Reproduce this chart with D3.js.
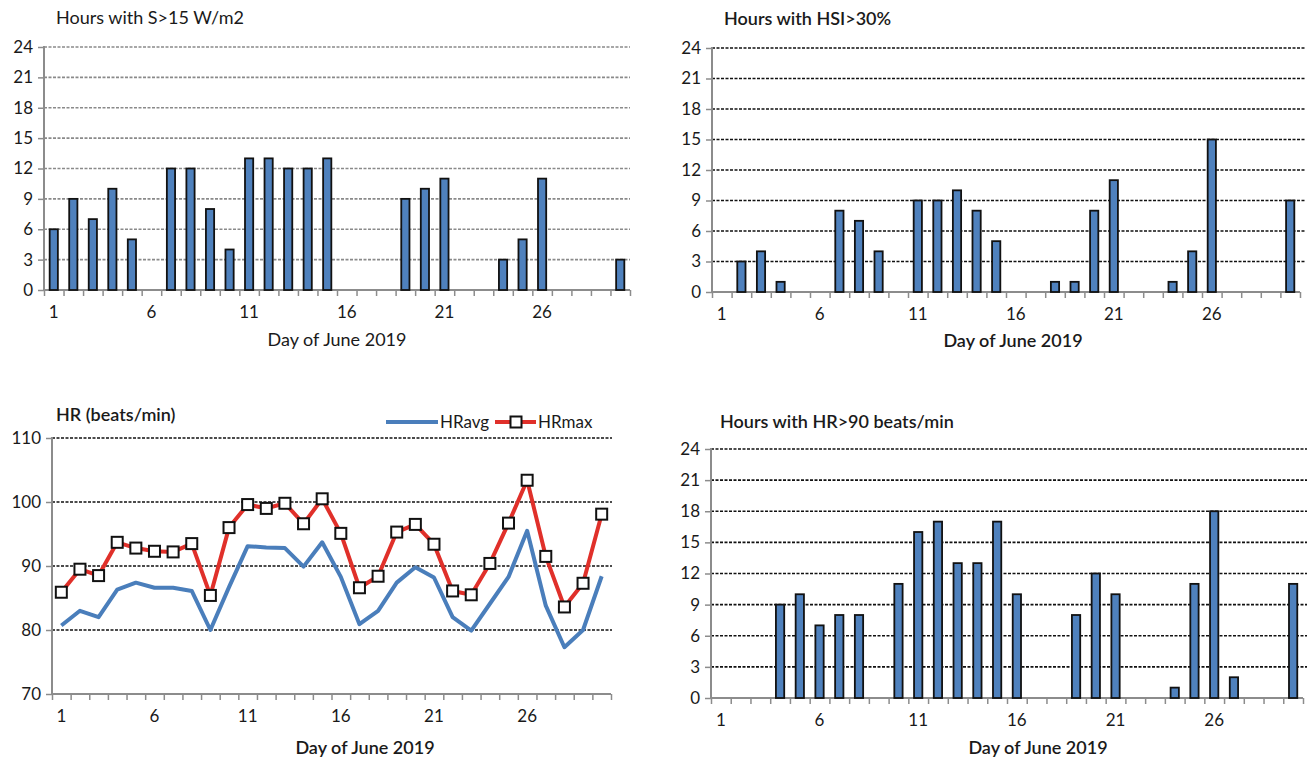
<!DOCTYPE html>
<html>
<head>
<meta charset="utf-8">
<script src="https://cdn.jsdelivr.net/npm/d3@7"></script>
<style>
  html, body { margin: 0; padding: 0; background: #fff; }
  svg { display: block; font-family: Lato, "Open Sans", sans-serif; }
</style>
</head>
<body>
<svg id="chart" width="1313" height="760"></svg>
<script>
// Days of June 2019
const days = d3.range(1, 31);
const dayLabels = [1, 6, 11, 16, 21, 26];

// Hours per day with solar irradiance S > 15 W/m2
const hoursSolar = [6, 9, 7, 10, 5, 0, 12, 12, 8, 4, 13, 13, 12, 12, 13, 0, 0, 0, 9, 10, 11, 0, 0, 3, 5, 11, 0, 0, 0, 3];
// Hours per day with heat stress index HSI > 30%
const hoursHSI = [0, 3, 4, 1, 0, 0, 8, 7, 4, 0, 9, 9, 10, 8, 5, 0, 0, 1, 1, 8, 11, 0, 0, 1, 4, 15, 0, 0, 0, 9];
// Hours per day with heart rate above 90 beats/min
const hoursHR90 = [0, 0, 0, 9, 10, 7, 8, 8, 0, 11, 16, 17, 13, 13, 17, 10, 0, 0, 8, 12, 10, 0, 0, 1, 11, 18, 2, 0, 0, 11];

// Daily heart rate (beats/min)
const hrAvg = [80.7, 83.0, 82.0, 86.3, 87.4, 86.6, 86.6, 86.1, 80.0, 86.7, 93.1, 92.9, 92.8, 89.9, 93.7, 88.3, 80.9, 83.0, 87.4, 89.8, 88.2, 82.0, 79.9, 84.1, 88.3, 95.5, 83.8, 77.3, 80.0, 88.4];
const hrMax = [85.9, 89.5, 88.5, 93.7, 92.8, 92.3, 92.2, 93.5, 85.4, 96.0, 99.6, 99.0, 99.8, 96.6, 100.5, 95.1, 86.6, 88.4, 95.3, 96.5, 93.4, 86.1, 85.5, 90.4, 96.7, 103.4, 91.5, 83.6, 87.3, 98.1];

const hoursTicks = [0, 3, 6, 9, 12, 15, 18, 21, 24];
const hrTicks = [70, 80, 90, 100, 110];

const BAR_FILL = "#4f81bd";
const AXIS_GREY = "#8c8c8c";
const TEXT = "#1a1a1a";

const svg = d3.select("#chart");

// Shared frame: axes, gridlines, tick labels, titles
function frame(cfg) {
  const g = svg.append("g");
  const x = d3.scaleBand().domain(days).range([cfg.left, cfg.right])
    .paddingInner(0.58).paddingOuter(0.29);
  const y = d3.scaleLinear().domain(cfg.yDomain).range([cfg.bottom, cfg.top]);

  // horizontal dashed gridlines (above the baseline)
  g.append("g").selectAll("line")
    .data(cfg.yTicks.filter(v => v !== cfg.yDomain[0]))
    .join("line")
    .attr("x1", cfg.left).attr("x2", cfg.gridRight)
    .attr("y1", d => y(d)).attr("y2", d => y(d))
    .attr("stroke", cfg.gridColor).attr("stroke-width", 1.7)
    .attr("stroke-dasharray", "3,1.5");

  // y axis
  const yAxis = g.append("g")
    .attr("transform", `translate(${cfg.left},0)`)
    .call(d3.axisLeft(y).tickValues(cfg.yTicks).tickSize(6).tickPadding(5).tickFormat(d3.format("d")));
  yAxis.select(".domain").attr("stroke", AXIS_GREY).attr("stroke-width", 2)
    .attr("d", `M0,${cfg.top - 1}V${cfg.bottom}`);
  yAxis.selectAll(".tick line").attr("stroke", AXIS_GREY).attr("stroke-width", 1.5);
  yAxis.selectAll(".tick text").attr("fill", TEXT).style("font-size", "17px")
    .attr("font-family", "Lato, sans-serif");

  // x axis: tick marks on category boundaries
  const xb = d3.scaleLinear().domain([0, days.length]).range([cfg.left, cfg.right]);
  const xAxis = g.append("g")
    .attr("transform", `translate(0,${cfg.bottom})`)
    .call(d3.axisBottom(xb).tickValues(d3.range(0, days.length + 1)).tickSize(6).tickFormat(""));
  xAxis.select(".domain").attr("stroke", AXIS_GREY).attr("stroke-width", 2)
    .attr("d", `M${cfg.left},0H${cfg.right}`);
  xAxis.selectAll(".tick line").attr("stroke", AXIS_GREY).attr("stroke-width", 1.5);

  // x labels centred under selected days
  const xl = g.append("g")
    .attr("transform", `translate(0,${cfg.bottom})`)
    .call(d3.axisBottom(x).tickValues(dayLabels).tickSize(0).tickPadding(cfg.xLabelPad));
  xl.select(".domain").remove();
  xl.selectAll(".tick text").attr("fill", TEXT).style("font-size", "17px")
    .attr("font-family", "Lato, sans-serif");

  // axis title
  g.append("text")
    .attr("x", cfg.xTitleX).attr("y", cfg.xTitleY)
    .attr("text-anchor", "middle")
    .attr("fill", TEXT).style("font-size", "18px")
    .style("font-weight", cfg.weight)
    .text("Day of June 2019");

  // chart title
  g.append("text")
    .attr("x", cfg.titleX).attr("y", cfg.titleY)
    .attr("fill", TEXT).style("font-size", "18px")
    .style("font-weight", cfg.weight)
    .text(cfg.title);

  return { g, x, y };
}

function barPanel(cfg, values) {
  const { g, x, y } = frame(cfg);
  g.append("g").selectAll("rect")
    .data(days.map((d, i) => ({ day: d, v: values[i] })).filter(d => d.v > 0))
    .join("rect")
    .attr("x", d => x(d.day))
    .attr("width", x.bandwidth())
    .attr("y", d => y(d.v))
    .attr("height", d => y(0) - y(d.v))
    .attr("fill", BAR_FILL)
    .attr("stroke", "#111")
    .attr("stroke-width", 1.8);
}

// Top-left: solar irradiance hours
barPanel({
  left: 44, right: 630, top: 47, bottom: 290, gridRight: 630,
  yDomain: [0, 24], yTicks: hoursTicks, gridColor: "#8a8a8a",
  xLabelPad: 16, xTitleX: 337, xTitleY: 346,
  title: "Hours with S>15 W/m2", titleX: 56, titleY: 24, weight: 400
}, hoursSolar);

// Top-right: heat stress index hours
barPanel({
  left: 712, right: 1300, top: 48, bottom: 292, gridRight: 1305,
  yDomain: [0, 24], yTicks: hoursTicks, gridColor: "#111",
  xLabelPad: 16, xTitleX: 1013, xTitleY: 347,
  title: "Hours with HSI>30%", titleX: 724, titleY: 25, weight: 600
}, hoursHSI);

// Bottom-right: heart-rate hours above 90 beats/min
barPanel({
  left: 711, right: 1303, top: 449, bottom: 698, gridRight: 1307,
  yDomain: [0, 24], yTicks: hoursTicks, gridColor: "#111",
  xLabelPad: 16, xTitleX: 1038, xTitleY: 754,
  title: "Hours with HR>90 beats/min", titleX: 720, titleY: 428, weight: 600
}, hoursHR90);

// Bottom-left: daily average and maximum heart rate
(function () {
  const cfg = {
    left: 52, right: 611, top: 438, bottom: 694, gridRight: 612,
    yDomain: [70, 110], yTicks: hrTicks, gridColor: "#111",
    xLabelPad: 16, xTitleX: 365, xTitleY: 754,
    title: "HR (beats/min)", titleX: 56, titleY: 421, weight: 600
  };
  const { g, x, y } = frame(cfg);
  const cx = d => x(d) + x.bandwidth() / 2;

  const line = d3.line().x(d => cx(d.day)).y(d => y(d.v));
  const avgPts = days.map((d, i) => ({ day: d, v: hrAvg[i] }));
  const maxPts = days.map((d, i) => ({ day: d, v: hrMax[i] }));

  g.append("path").datum(avgPts)
    .attr("d", line).attr("fill", "none")
    .attr("stroke", "#4a7ebb").attr("stroke-width", 4)
    .attr("stroke-linejoin", "round");

  g.append("path").datum(maxPts)
    .attr("d", line).attr("fill", "none")
    .attr("stroke", "#e0302a").attr("stroke-width", 4)
    .attr("stroke-linejoin", "round");

  const m = 11;
  g.append("g").selectAll("rect")
    .data(maxPts).join("rect")
    .attr("x", d => cx(d.day) - m / 2).attr("y", d => y(d.v) - m / 2)
    .attr("width", m).attr("height", m)
    .attr("fill", "#fff").attr("stroke", "#111").attr("stroke-width", 2);

  // legend
  const lg = g.append("g");
  const ly = 422;
  lg.append("line").attr("x1", 386).attr("x2", 438).attr("y1", ly).attr("y2", ly)
    .attr("stroke", "#4a7ebb").attr("stroke-width", 4);
  lg.append("text").attr("x", 440).attr("y", ly + 6).attr("fill", TEXT)
    .style("font-size", "17px").text("HRavg");
  lg.append("line").attr("x1", 495).attr("x2", 536).attr("y1", ly).attr("y2", ly)
    .attr("stroke", "#e0302a").attr("stroke-width", 4);
  lg.append("rect").attr("x", 516 - m / 2).attr("y", ly - m / 2).attr("width", m).attr("height", m)
    .attr("fill", "#fff").attr("stroke", "#111").attr("stroke-width", 2);
  lg.append("text").attr("x", 538).attr("y", ly + 6).attr("fill", TEXT)
    .style("font-size", "17px").text("HRmax");
})();
</script>
</body>
</html>
